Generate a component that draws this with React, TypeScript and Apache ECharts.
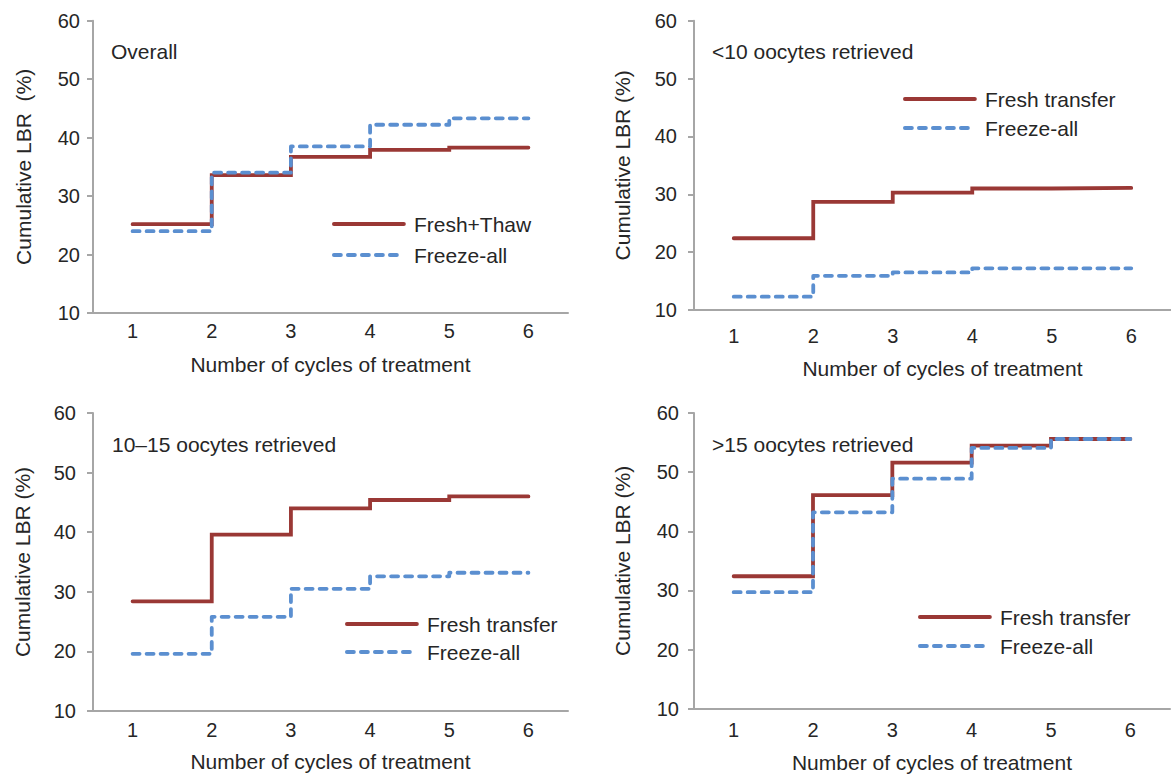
import { useEffect, useRef } from "react";
import * as echarts from "echarts";

// ---- data ----
const cycles = ["1", "2", "3", "4", "5", "6"];
const yMin = 10;
const yMax = 60;
const yStep = 10;

const panelTitles = [
  "Overall",
  "<10 oocytes retrieved",
  "10–15 oocytes retrieved",
  ">15 oocytes retrieved",
];
const freshNames = ["Fresh+Thaw", "Fresh transfer", "Fresh transfer", "Fresh transfer"];
const freezeName = "Freeze-all";
const yTitles = ["Cumulative LBR  (%)", "Cumulative LBR (%)", "Cumulative LBR (%)", "Cumulative LBR (%)"];
const xTitle = "Number of cycles of treatment";

const overallFresh = [25.2, 33.6, 36.7, 37.9, 38.3, 38.3];
const overallFreeze = [24.0, 34.0, 38.5, 42.2, 43.3, 43.3];
const lt10Fresh = [22.4, 28.7, 30.3, 31.0, 31.1, 31.1];
const lt10Freeze = [12.3, 15.9, 16.5, 17.2, 17.2, 17.2];
const mid10to15Fresh = [28.4, 39.6, 44.0, 45.4, 46.0, 46.0];
const mid10to15Freeze = [19.6, 25.8, 30.5, 32.6, 33.2, 33.2];
const gt15Fresh = [32.4, 46.1, 51.6, 54.5, 55.6, 55.6];
const gt15Freeze = [29.7, 43.2, 48.9, 54.1, 55.6, 55.6];

const freshData = [overallFresh, lt10Fresh, mid10to15Fresh, gt15Fresh];
const freezeData = [overallFreeze, lt10Freeze, mid10to15Freeze, gt15Freeze];

// ---- layout / style ----
const FONT = "'Liberation Sans', Arial, Helvetica, sans-serif";
const TEXT = "#262626";
const AXIS = "#a6a6a6";
const RED = "#9a3835";
const BLUE = "#5b8fd0";
const LW = 3.8;
const DASH = [7, 7];

const panels = [
  { left: 93, top: 20.7, width: 475, height: 292.3, yLabMargin: 13, xLabMargin: 8, yGap: 59.5, xGap: 41, xPad: 0,
    titleX: 111, titleY: 52, legLeft: 332, legTop: 213.5, legGap: 10 },
  { left: 694, top: 20.7, width: 484, height: 289.3, yLabMargin: 17, xLabMargin: 16, yGap: 61.5, xGap: 48, xPad: 20,
    titleX: 712, titleY: 52, legLeft: 903, legTop: 88.5, legGap: 8 },
  { left: 93, top: 413, width: 475, height: 298, yLabMargin: 17, xLabMargin: 8.5, yGap: 60.5, xGap: 40, xPad: 0,
    titleX: 112, titleY: 445, legLeft: 345, legTop: 613.5, legGap: 7 },
  { left: 694, top: 413, width: 476, height: 295.7, yLabMargin: 15, xLabMargin: 11, yGap: 61.5, xGap: 43, xPad: 0,
    titleX: 712, titleY: 445, legLeft: 918, legTop: 606.5, legGap: 8 },
];

function buildOption() {
  const grid: any[] = [];
  const xAxis: any[] = [];
  const yAxis: any[] = [];
  const series: any[] = [];
  const legend: any[] = [];
  const graphic: any[] = [];

  panels.forEach((p, i) => {
    grid.push({ left: p.left, top: p.top, width: p.width, height: p.height, containLabel: false });
    xAxis.push({
      type: "category",
      gridIndex: i,
      data: cycles,
      boundaryGap: true,
      axisLine: { show: true, lineStyle: { color: AXIS, width: 2 } },
      axisTick: { show: false },
      axisLabel: { color: TEXT, fontSize: 20, fontFamily: FONT, margin: p.xLabMargin },
      splitLine: { show: false },
      name: xTitle,
      nameLocation: "middle",
      nameGap: p.xGap,
      nameTextStyle: { color: TEXT, fontSize: 21, fontFamily: FONT, padding: [0, 0, 0, p.xPad] },
    });
    yAxis.push({
      type: "value",
      gridIndex: i,
      min: yMin,
      max: yMax,
      interval: yStep,
      axisLine: { show: true, lineStyle: { color: AXIS, width: 2 } },
      axisTick: { show: true, length: 6, lineStyle: { color: AXIS, width: 2 } },
      axisLabel: { color: TEXT, fontSize: 20, fontFamily: FONT, margin: p.yLabMargin },
      splitLine: { show: false },
      name: yTitles[i],
      nameLocation: "middle",
      nameGap: p.yGap,
      nameTextStyle: { color: TEXT, fontSize: 21, fontFamily: FONT },
    });
    series.push({
      type: "line",
      name: freshNames[i],
      xAxisIndex: i,
      yAxisIndex: i,
      step: "end",
      data: freshData[i],
      symbol: "none",
      showSymbol: false,
      lineStyle: { color: RED, width: LW, cap: "round", join: "miter" },
      itemStyle: { color: RED },
      z: 2,
    });
    series.push({
      type: "line",
      name: freezeName,
      xAxisIndex: i,
      yAxisIndex: i,
      step: "end",
      data: freezeData[i],
      symbol: "none",
      showSymbol: false,
      lineStyle: { color: BLUE, width: LW, type: DASH, cap: "round", join: "round" },
      itemStyle: { color: BLUE },
      z: 3,
    });
    legend.push({
      show: true,
      orient: "vertical",
      left: p.legLeft,
      top: p.legTop,
      padding: 0,
      itemWidth: 70,
      itemHeight: 14,
      itemGap: p.legGap,
      selectedMode: false,
      itemStyle: { opacity: 0, borderWidth: 0 },
      data: [
        {
          name: freshNames[i],
          itemStyle: { opacity: 0, borderWidth: 0 },
          lineStyle: { color: RED, width: LW, type: "solid", cap: "round" },
        },
        {
          name: freezeName,
          itemStyle: { opacity: 0, borderWidth: 0 },
          lineStyle: { color: BLUE, width: LW, type: DASH, cap: "round" },
        },
      ],
      textStyle: { color: TEXT, fontSize: 21, fontFamily: FONT, padding: [0, 0, 0, 5] },
    });
    graphic.push({
      type: "text",
      left: p.titleX,
      top: p.titleY - 11,
      style: { text: panelTitles[i], fill: TEXT, fontSize: 21, fontFamily: FONT },
    });
  });

  return {
    animation: false,
    backgroundColor: "#ffffff",
    grid,
    xAxis,
    yAxis,
    series,
    legend,
    graphic,
  };
}

export default function App() {
  const ref = useRef<HTMLDivElement>(null);
  useEffect(() => {
    if (!ref.current) return;
    const chart = echarts.init(ref.current, undefined, { renderer: "svg" });
    chart.setOption(buildOption() as any);
    return () => chart.dispose();
  }, []);
  return (
    <div
      ref={ref}
      style={{ position: "absolute", left: 0, top: 0, width: 1171, height: 778, background: "#fff" }}
    />
  );
}
